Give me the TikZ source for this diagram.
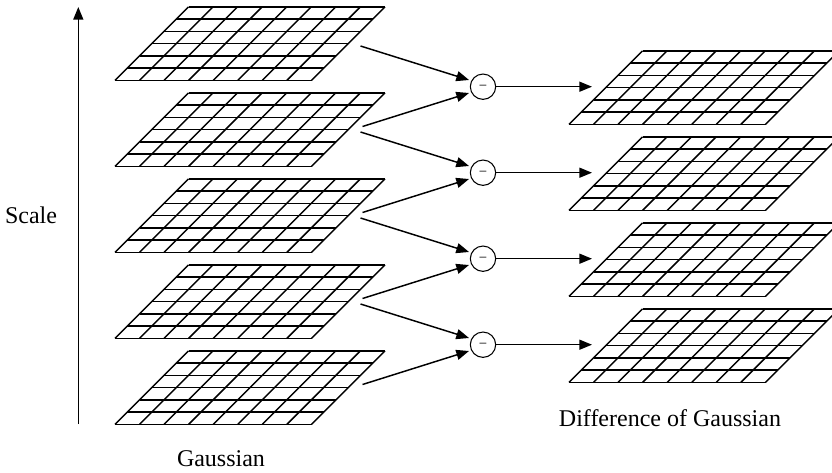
\documentclass[tikz,border=0pt]{standalone}
\usepackage{fontspec}
\setmainfont{Liberation Serif}
\usetikzlibrary{arrows.meta}
\tikzset{
 px/.style={x=0.75pt,y=-0.75pt},
 gridline/.style={line width=1.1pt,black},
 conn/.style={line width=1.1pt,-{Triangle[length=9.5pt,width=7.5pt]}},
 minus/.style={circle,draw,line width=0.8pt,minimum size=19pt,inner sep=0pt,font=\fontsize{11}{11}\selectfont,text height=0.55em,text depth=0pt},
 lab/.style={font=\fontsize{18}{18}\selectfont,inner sep=0pt}
}
\newcommand{\planegrid}[2]{%
 \foreach \i in {0,...,6} {\draw[gridline] ({#1+73.5*(1-\i/6)},{#2+0.3-73.5+12.25*\i}) -- ++(196.5,0);}
 \foreach \j in {0,...,8} {\draw[gridline] ({#1+24.5625*\j},#2+0.3) -- ++(73.5,-73.5);}
}
\begin{document}
\begin{tikzpicture}[px]
\useasboundingbox (0,0) rectangle (832,472);
\foreach \b in {80,166,252,338,424} {\planegrid{115}{\b}}
\foreach \b in {124,210,296,382} {\planegrid{569}{\b}}
\foreach \n/\y in {1/87,2/173,3/259,4/345} {
 \node[minus] (m\n) at (483,\y-0.3) {\char"2212};
 \coordinate (ot\n) at (360.5,\y-41);
 \coordinate (ob\n) at (362.5,\y+39.5);
 \coordinate (tgt\n) at (469,\y-7);
 \coordinate (tgb\n) at (469,\y+6);
 \coordinate (r\n) at (592,\y-0.3);
 \draw[conn] (ot\n) -- (tgt\n);
 \draw[conn] (ob\n) -- (tgb\n);
 \draw[conn] (m\n) -- (r\n);
}
\coordinate (sb) at (78.3,424);
\coordinate (st) at (78.3,7);
\draw[conn] (sb) -- (st);
\node[lab] (scale) at (31,215) {Scale};
\node[lab] (g) at (221,459) {Gaussian};
\node[lab] (d) at (670,418) {Difference of Gaussian};
\end{tikzpicture}
\end{document}
